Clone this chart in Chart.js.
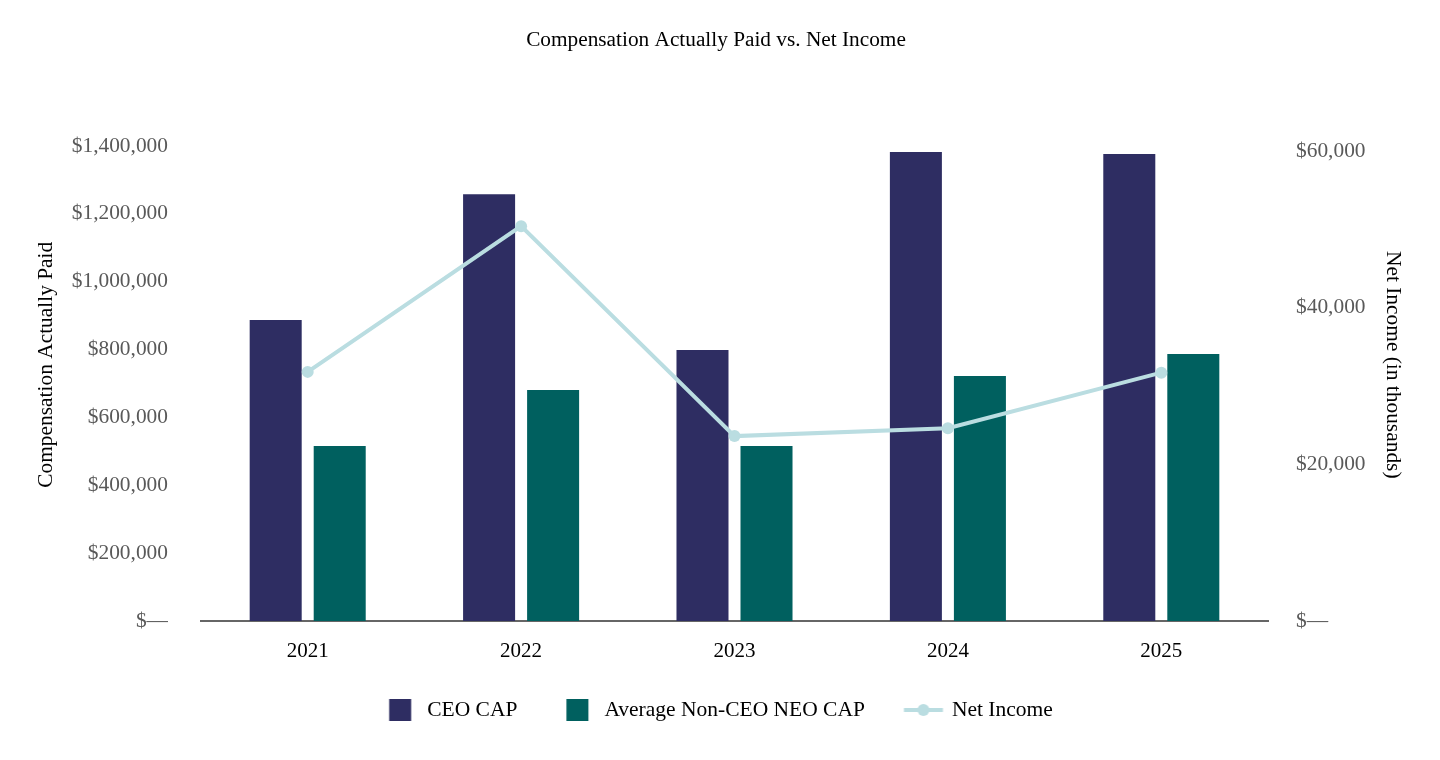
<!DOCTYPE html>
<html>
<head>
<meta charset="utf-8">
<script src="https://cdn.jsdelivr.net/npm/chart.js@4.4.1/dist/chart.umd.min.js"></script>
<style>
  html, body { margin: 0; padding: 0; background: #fff; }
  #wrap { width: 1440px; height: 760px; position: relative; }
</style>
</head>
<body>
<div id="wrap"><canvas id="capChart"></canvas></div>
<script>
// données
const years = ['2021', '2022', '2023', '2024', '2025'];
const ceoCap = [887000, 1258000, 799000, 1382000, 1376000];
const neoCap = [516000, 681000, 516000, 722000, 787000];
const netIncome = [31800, 50400, 23600, 24600, 31700];
const leftTicks = [0, 200000, 400000, 600000, 800000, 1000000, 1200000, 1400000];
const rightTicks = [0, 20000, 40000, 60000];

const serif = "'Liberation Serif', 'Times New Roman', serif";
const navy = '#2e2d62';
const teal = '#00605f';
const lightBlue = '#badde1';

function money(v) {
    return v === 0 ? '$\u2014' : '$' + v.toLocaleString('en-US');
}

// marqueurs de légende (canvas 64 px, centrés sur la case de 37.25 px)
function squareMarker(color) {
    const c = document.createElement('canvas');
    c.width = 64; c.height = 22;
    const ctx = c.getContext('2d');
    ctx.fillStyle = color;
    ctx.fillRect(23.375, 0, 22, 22);
    return c;
}
function lineMarker(color) {
    const c = document.createElement('canvas');
    c.width = 64; c.height = 14;
    const ctx = c.getContext('2d');
    ctx.strokeStyle = color;
    ctx.lineWidth = 4;
    ctx.beginPath(); ctx.moveTo(13.375, 7); ctx.lineTo(52.375, 7); ctx.stroke();
    ctx.fillStyle = color;
    ctx.beginPath(); ctx.arc(32.875, 7, 6, 0, Math.PI * 2); ctx.fill();
    return c;
}

const canvas = document.querySelector('#capChart');
const chart = new Chart(canvas, {
    data: {
        labels: years,
        datasets: [
            {
                type: 'line',
                label: 'Net Income',
                data: netIncome,
                yAxisID: 'y1',
                borderColor: lightBlue,
                backgroundColor: lightBlue,
                borderWidth: 4,
                pointRadius: 6,
                pointHoverRadius: 6,
                pointBackgroundColor: lightBlue,
                pointBorderWidth: 0,
                tension: 0,
            },
            {
                type: 'bar',
                label: 'CEO CAP',
                data: ceoCap,
                yAxisID: 'y',
                backgroundColor: navy,
                categoryPercentage: 0.6,
                barPercentage: 0.8125,
            },
            {
                type: 'bar',
                label: 'Average Non-CEO NEO CAP',
                data: neoCap,
                yAxisID: 'y',
                backgroundColor: teal,
                categoryPercentage: 0.6,
                barPercentage: 0.8125,
            },
        ],
    },
    options: {
        responsive: true,
        maintainAspectRatio: false,
        animation: false,
        layout: { padding: { left: 0, right: 8, top: 0, bottom: 29.25 } },
        plugins: {
            title: {
                display: true,
                text: 'Compensation Actually Paid vs. Net Income',
                color: '#000',
                font: { family: serif, size: 21.3, weight: 'normal' },
                padding: { top: 27.2, bottom: 93.2 },
            },
            legend: {
                position: 'bottom',
                labels: {
                    usePointStyle: true,
                    pointStyleWidth: 37.25,
                    padding: 39,
                    color: '#000',
                    font: { family: serif, size: 21.5 },
                    generateLabels: () => [
                        { text: 'CEO CAP', pointStyle: squareMarker(navy), datasetIndex: 1, fontColor: '#000', lineWidth: 0 },
                        { text: 'Average Non-CEO NEO CAP', pointStyle: squareMarker(teal), datasetIndex: 2, fontColor: '#000', lineWidth: 0 },
                        { text: 'Net Income', pointStyle: lineMarker(lightBlue), datasetIndex: 0, fontColor: '#000', lineWidth: 0 },
                    ],
                },
            },
            tooltip: { enabled: false },
        },
        scales: {
            x: {
                grid: { display: false },
                border: { display: true, color: '#666', width: 2 },
                ticks: { color: '#000', padding: 10, font: { family: serif, size: 21 } },
                afterFit: (s) => { s.height = 39.25; },
            },
            y: {
                position: 'left',
                min: 0,
                max: 1400000,
                grid: { display: false },
                border: { display: false },
                afterBuildTicks: (s) => { s.ticks = leftTicks.map(v => ({ value: v })); },
                ticks: { color: '#595959', padding: 25, font: { family: serif, size: 21.4 }, callback: (v) => money(v) },
                title: {
                    display: true,
                    // espaces en tête : remonte le titre comme sur l'original
                    text: '       Compensation Actually Paid',
                    color: '#000',
                    font: { family: serif, size: 21.4 },
                    padding: { top: 34, bottom: 0 },
                },
                afterFit: (s) => { s.width = 201; },
            },
            y1: {
                position: 'right',
                min: 0,
                max: 60638,
                grid: { display: false },
                border: { display: false },
                afterBuildTicks: (s) => { s.ticks = rightTicks.map(v => ({ value: v })); },
                ticks: { color: '#595959', padding: 20, font: { family: serif, size: 21.4 }, callback: (v) => money(v) },
                title: {
                    display: true,
                    text: 'Net Income (in thousands)       ',
                    color: '#000',
                    font: { family: serif, size: 21.4 },
                    padding: { top: 26.2, bottom: 0 },
                },
                afterFit: (s) => { s.width = 164; },
            },
        },
    },
});
</script>
</body>
</html>
